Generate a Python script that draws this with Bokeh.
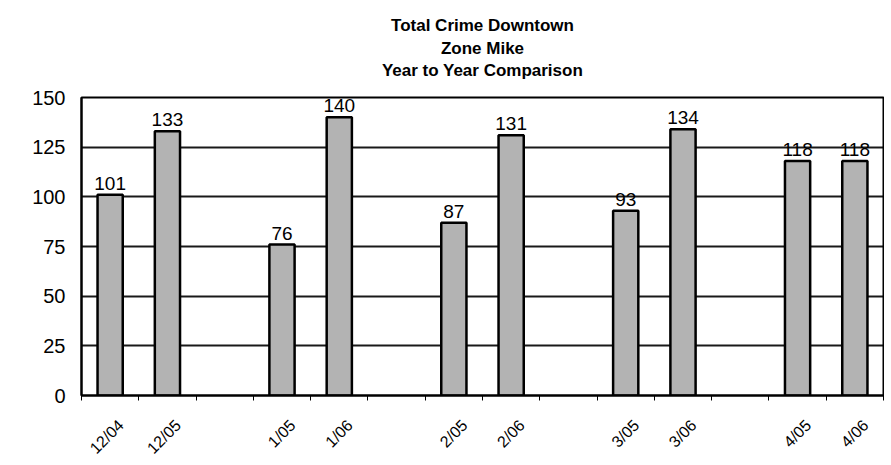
from bokeh.plotting import figure
from bokeh.models import FixedTicker, Range1d, Title
from bokeh.embed import file_html
from bokeh.resources import INLINE
from bokeh.core.properties import value

# ---- data ----
categories = ["12/04", "12/05", "1/05", "1/06", "2/05", "2/06",
              "3/05", "3/06", "4/05", "4/06"]
crimes = [101, 133, 76, 140, 87, 131, 93, 134, 118, 118]
title_lines = ["Total Crime Downtown", "Zone Mike", "Year to Year Comparison"]
y_ticks = [0, 25, 50, 75, 100, 125, 150]

# ---- layout of slots: pairs separated by one empty slot ----
PAIR = 2
GAP = 1
xs = [(i // PAIR) * (PAIR + GAP) + (i % PAIR) + 0.5 for i in range(len(categories))]
n_slots = (len(categories) // PAIR) * (PAIR + GAP) - GAP
label_pos = [x + 0.1875 for x in xs]

FONT = "Liberation Sans"

p = figure(width=884, height=465, output_backend="svg", toolbar_location=None,
           x_range=Range1d(0, n_slots), y_range=Range1d(0, 150),
           min_border_left=81, min_border_top=97, min_border_bottom=70,
           min_border_right=1,
           styles={"box-shadow": "-1px -1px 0 0 #333"})

p.vbar(x=xs, top=crimes, bottom=0, width=0.44,
       fill_color="#b3b3b3", line_color="black", line_width=2.5)

p.text(x=xs, y=crimes, text=[str(v) for v in crimes],
       text_align="center", text_baseline="bottom", y_offset=-5,
       text_font=value(FONT), text_font_size="19px", text_color="black")

# spacer between the plot and the title block
p.add_layout(Title(text=" ", standoff=0, text_font=FONT,
                   text_font_size="14px"), "above")
# title lines (first added sits closest to the plot)
for i, line in enumerate(reversed(title_lines)):
    p.add_layout(Title(text=line, align="center", standoff=0 if i == 0 else 2,
                       text_font=FONT, text_font_size="17px",
                       text_font_style="bold", text_color="black"), "above")

# x axis
p.xaxis.ticker = FixedTicker(ticks=label_pos,
                             minor_ticks=list(range(0, n_slots + 1)))
p.xaxis.major_label_overrides = {t: c for t, c in zip(label_pos, categories)}
p.xaxis.major_label_orientation = 0.785398
p.xaxis.major_label_text_font = FONT
p.xaxis.major_label_text_font_size = "16px"
p.xaxis.major_label_text_color = "black"
p.xaxis.major_label_standoff = 22
p.xaxis.major_tick_in = 0
p.xaxis.major_tick_out = 0
p.xaxis.minor_tick_in = 0
p.xaxis.minor_tick_out = 5
p.xaxis.minor_tick_line_color = "black"
p.xaxis.axis_line_color = "black"
p.xaxis.axis_line_width = 2

# y axis
p.yaxis.ticker = FixedTicker(ticks=y_ticks)
p.yaxis.major_label_text_font = FONT
p.yaxis.major_label_text_font_size = "20px"
p.yaxis.major_label_text_color = "black"
p.yaxis.major_label_standoff = 16
p.yaxis.major_tick_in = 0
p.yaxis.major_tick_out = 0
p.yaxis.minor_tick_line_color = None
p.yaxis.axis_line_color = "black"
p.yaxis.axis_line_width = 2

p.xgrid.grid_line_color = None
p.ygrid.grid_line_color = "black"
p.ygrid.grid_line_width = 2
p.ygrid.grid_line_alpha = 0.9

p.outline_line_color = "black"
p.outline_line_width = 2
p.background_fill_color = "white"
p.border_fill_color = "white"

open("out.html", "w").write(file_html(p, INLINE))
